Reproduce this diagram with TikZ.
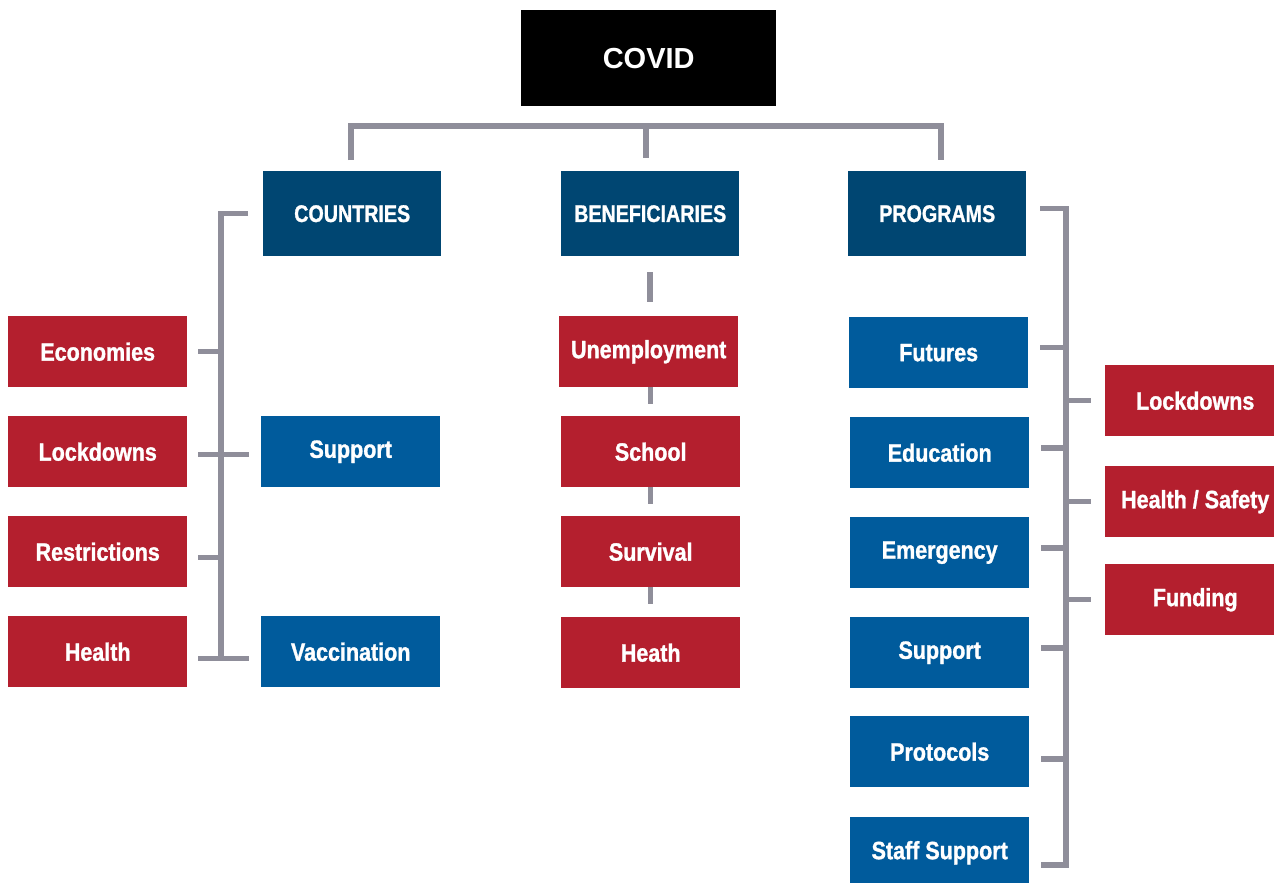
\documentclass[tikz,border=0pt]{standalone}
\usepackage{fontspec}
\setmainfont{Liberation Sans}
\newfontfamily\condfont{Liberation Sans}[FakeStretch=0.86, BoldFeatures={FakeBold=1.2}]
\newfontfamily\headfont{Liberation Sans}[FakeStretch=0.82, BoldFeatures={FakeBold=1.2}]
\usetikzlibrary{calc}
\definecolor{cred}{RGB}{180,31,46}
\definecolor{cdark}{RGB}{0,70,114}
\definecolor{cblue}{RGB}{0,91,156}
\definecolor{cgray}{RGB}{143,142,154}
\tikzset{
  box/.style={rectangle, inner sep=0pt, anchor=north west, text=white,
    font=\condfont\bfseries\fontsize{25}{30}\selectfont},
  redbox/.style={box, fill=cred, minimum width=179pt, minimum height=71pt},
  bluebox/.style={box, fill=cblue, minimum width=179pt, minimum height=71pt},
  headbox/.style={box, fill=cdark, minimum width=178pt, minimum height=85pt,
    font=\headfont\bfseries\fontsize{24}{28}\selectfont},
  topbox/.style={box, fill=black, minimum width=255pt, minimum height=96pt,
    font=\bfseries\fontsize{29}{34}\selectfont},
  conn/.style={draw=cgray, line width=5.5pt, line join=miter},
  bigconn/.style={conn, line width=6.5pt}
}
\begin{document}
\begin{tikzpicture}[x=1pt,y=-1pt]
\useasboundingbox (0,0) rectangle (1274,883);
\clip (0,0) rectangle (1274,883);
\fill[white] (0,0) rectangle (1274,883);
% top
\node[topbox] (covid) at (521,10) {COVID};
\node[headbox] (countries) at (263,171) {COUNTRIES};
\node[headbox] (benef) at (561,171) {BENEFICIARIES};
\node[headbox] (programs) at (848,171) {PROGRAMS};
% left column
\node[redbox] (econ) at (8,316) {Economies};
\node[redbox] (lock1) at (8,416) {Lockdowns};
\node[redbox] (restr) at (8,516) {Restrictions};
\node[redbox] (health1) at (8,616) {Health};
\node[bluebox] (support1) at (261,416) {Support};
\node[bluebox] (vacc) at (261,616) {Vaccination};
% middle column
\node[redbox] (unemp) at (559,316) {Unemployment};
\node[redbox] (school) at (561,416) {School};
\node[redbox] (surv) at (561,516) {Survival};
\node[redbox] (heath) at (561,617) {Heath};
% right column
\node[bluebox] (futures) at (849,317) {Futures};
\node[bluebox] (educ) at (850,417) {Education};
\node[bluebox] (emerg) at (850,517) {Emergency};
\node[bluebox] (support2) at (850,617) {Support};
\node[bluebox] (protocols) at (850,716) {Protocols};
\node[bluebox] (staff) at (850,817) {Staff Support};
\node[redbox, minimum width=180pt] (lock2) at (1105,365) {Lockdowns};
\node[redbox, minimum width=180pt] (hs) at (1105,466) {Health / Safety};
\node[redbox, minimum width=180pt] (fund) at (1105,564) {Funding};
% bar coordinates
\coordinate (topbar) at (0,126);
\coordinate (lbar) at (221,214);
\coordinate (rbar) at (1066,208);
% top connectors
\draw[bigconn] ([xshift=-1pt,yshift=11pt]countries.north) -- ([xshift=-1pt]countries.north |- topbar) -- ([xshift=4pt]programs.north |- topbar) -- ([xshift=4pt,yshift=11pt]programs.north);
\draw[bigconn] ([xshift=-4pt]benef.north |- topbar) -- ([xshift=-4pt,yshift=13pt]benef.north);
% left bracket
\draw[conn] ([xshift=-15pt]countries.west) -| ([yshift=-7pt]health1.east -| lbar);
\draw[conn] ([xshift=11pt]econ.east) -- (econ.east -| lbar);
\draw[conn] ([xshift=11pt,yshift=-3pt]lock1.east) -- ([xshift=-12pt,yshift=-3pt]support1.west);
\draw[conn] ([xshift=11pt,yshift=-6pt]restr.east) -- ([yshift=-6pt]restr.east -| lbar);
\draw[conn] ([xshift=11pt,yshift=-7pt]health1.east) -- ([xshift=-12pt,yshift=-7pt]vacc.west);
% middle chain
\draw[conn] ([yshift=-16pt]benef.south) -- ([yshift=14pt]unemp.north -| benef.south);
\draw[conn] (unemp.south -| school.north) -- ([yshift=12pt]school.north);
\draw[conn] (school.south) -- ([yshift=12pt]surv.north);
\draw[conn] (surv.south) -- ([yshift=13pt]heath.north);
% right bracket
\draw[conn] ([xshift=14pt,yshift=5pt]programs.east) -| ([yshift=-12.5pt]staff.east -| rbar) -- ([xshift=12pt,yshift=-12.5pt]staff.east);
\draw[conn] ([xshift=12pt,yshift=5pt]futures.east) -- ([yshift=5pt]futures.east -| rbar);
\draw[conn] ([xshift=12pt,yshift=4.5pt]educ.east) -- ([yshift=4.5pt]educ.east -| rbar);
\draw[conn] ([xshift=12pt,yshift=4.5pt]emerg.east) -- ([yshift=4.5pt]emerg.east -| rbar);
\draw[conn] ([xshift=12pt,yshift=4.5pt]support2.east) -- ([yshift=4.5pt]support2.east -| rbar);
\draw[conn] ([xshift=12pt,yshift=-7.5pt]protocols.east) -- ([yshift=-7.5pt]protocols.east -| rbar);
\draw[conn] (lock2.west -| rbar) -- ([xshift=-14pt]lock2.west);
\draw[conn] (hs.west -| rbar) -- ([xshift=-14pt]hs.west);
\draw[conn] (fund.west -| rbar) -- ([xshift=-14pt]fund.west);
\end{tikzpicture}
\end{document}
